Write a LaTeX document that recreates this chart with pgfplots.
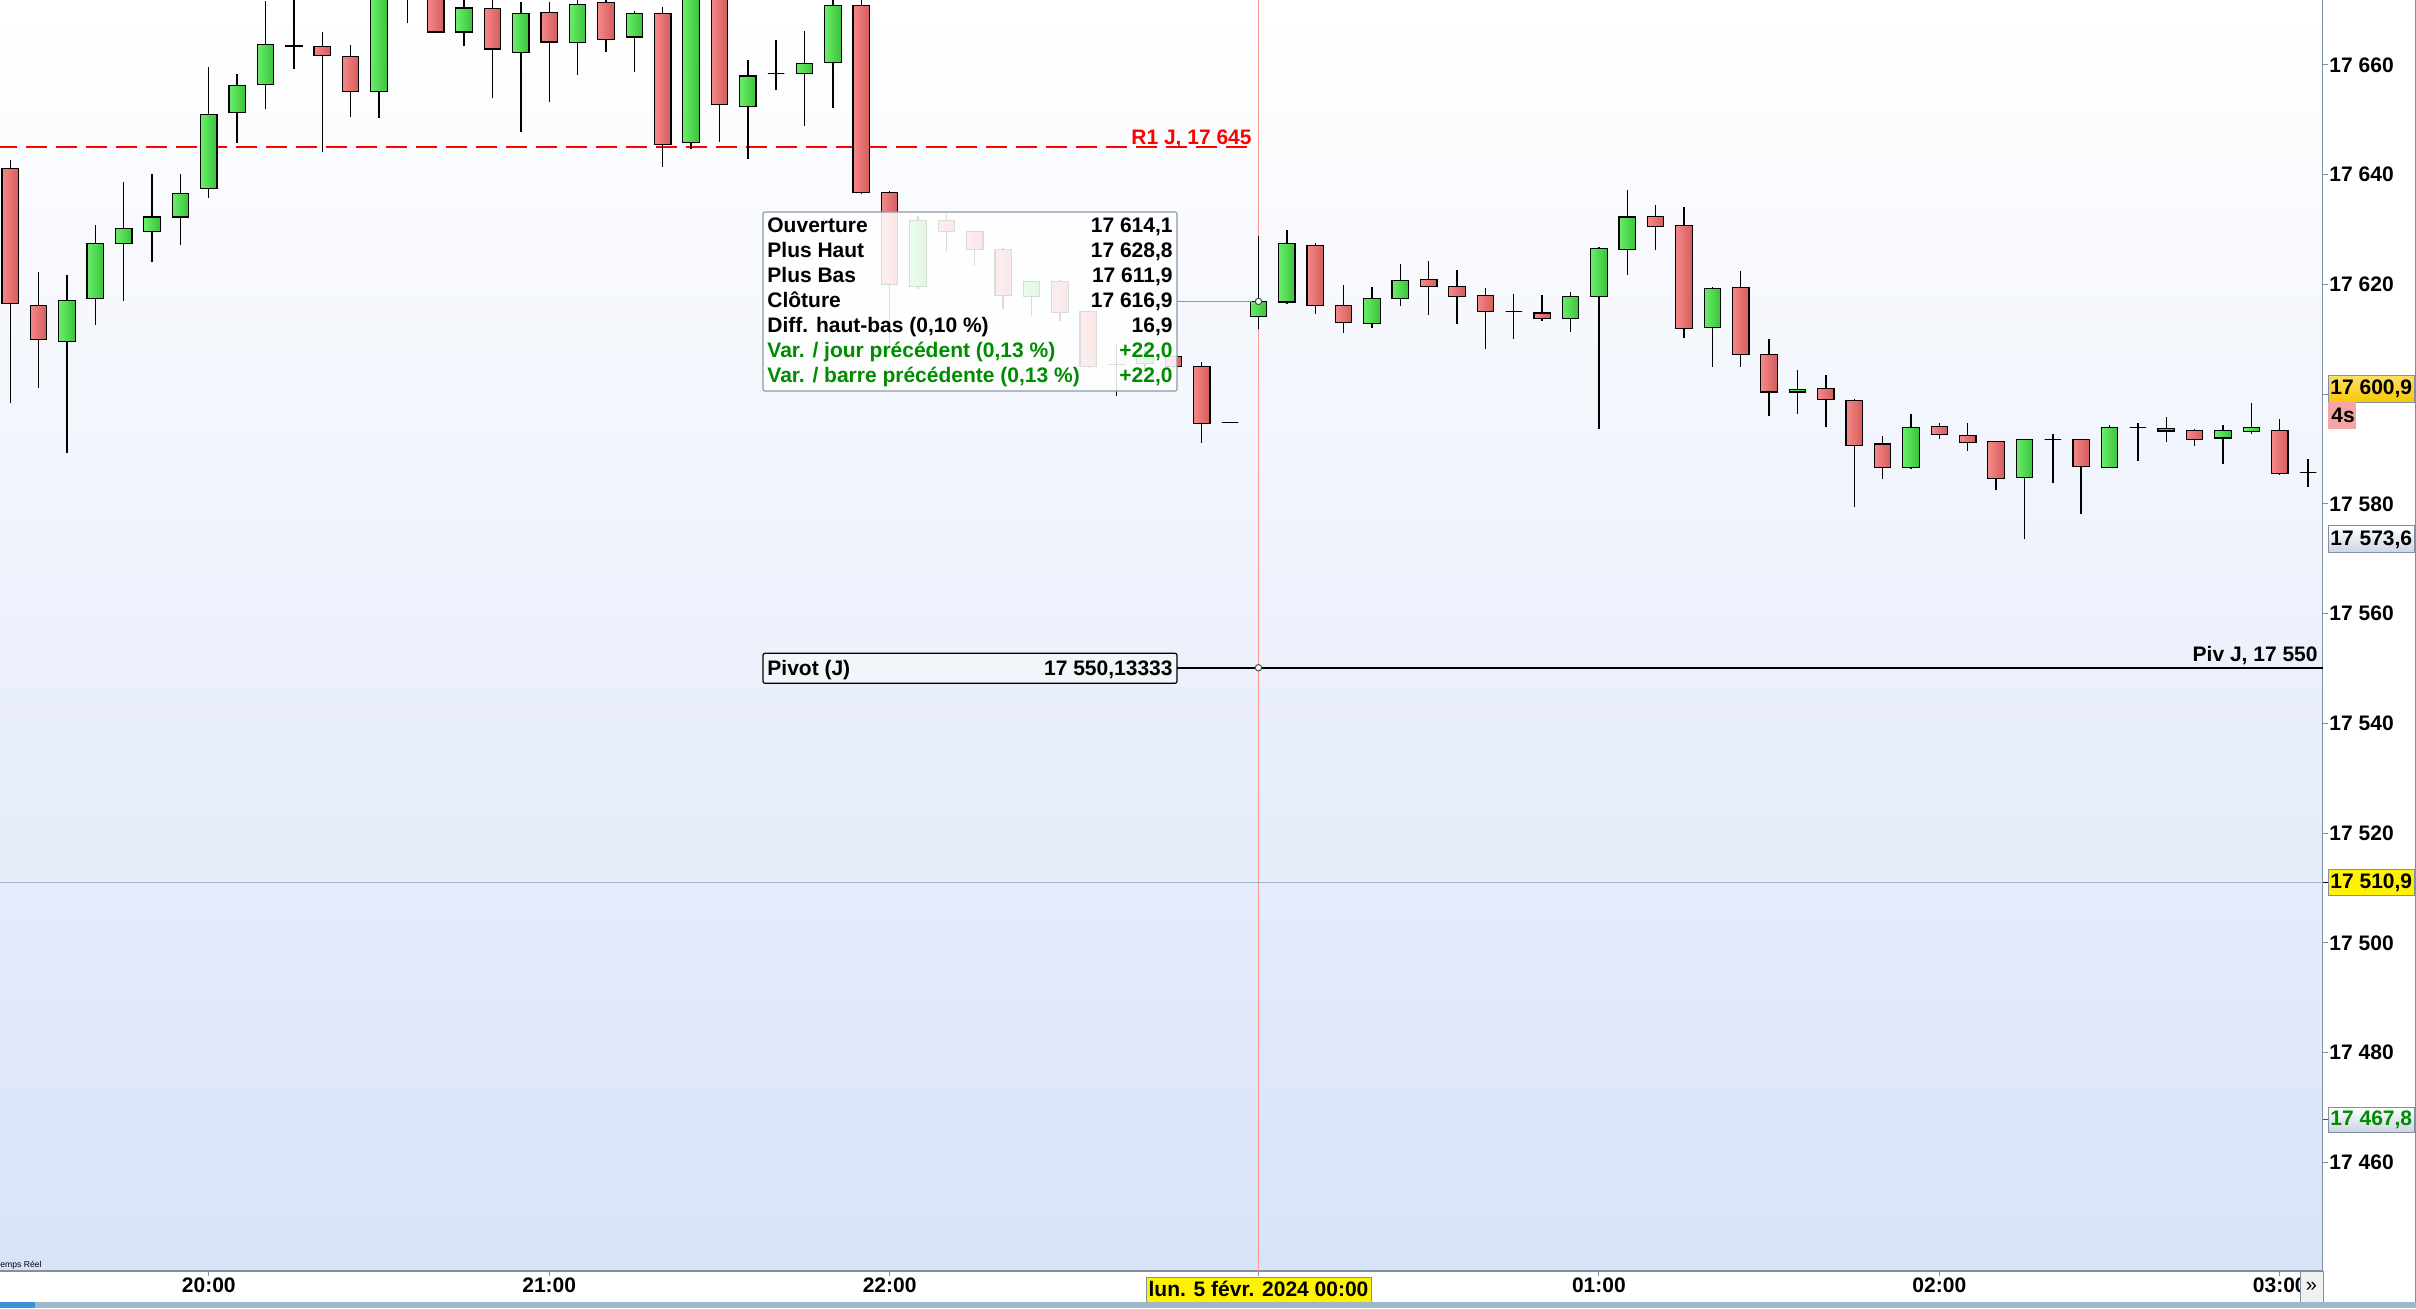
\documentclass[border=0pt]{standalone}
\usepackage{fontspec}
\setmainfont{Liberation Sans}
\usepackage{pgfplots}
\usepackage{pgfplotstable}
\pgfplotsset{compat=1.18}

\newcommand\lbl{\fontsize{10.5}{12.6}\selectfont\bfseries}

\definecolor{bgbot}{RGB}{217,227,248}
\definecolor{gl}{RGB}{106,238,106}
\definecolor{gr}{RGB}{58,194,58}
\definecolor{rl}{RGB}{245,136,136}
\definecolor{rr}{RGB}{212,92,92}
\definecolor{axgray}{RGB}{128,144,160}
\definecolor{barblue}{RGB}{158,184,201}
\definecolor{deepblue}{RGB}{58,143,216}
\definecolor{gold}{RGB}{250,200,0}
\definecolor{lblue}{RGB}{222,230,242}
\definecolor{pinkbox}{RGB}{244,166,166}
\definecolor{dgreen}{RGB}{0,140,0}
\definecolor{crossred}{RGB}{255,150,150}
\definecolor{crossgray}{RGB}{165,178,195}
\definecolor{tipborder}{RGB}{140,154,166}

% 5-minute candles, x = bar index (0 = 20:00, 37 = 00:00)
\pgfplotstableread{
x o h l c
-5 17609.6 17621.7 17589.2 17617.1
-4 17617.5 17630.8 17612.6 17627.5
-3 17627.5 17638.6 17617.0 17630.2
-2 17629.7 17640.1 17624.0 17632.3
-1 17632.3 17640.1 17627.1 17636.6
0 17637.5 17659.6 17635.8 17651.0
1 17651.3 17658.4 17645.8 17656.3
2 17656.4 17671.6 17651.9 17663.8
6 17655.1 17679.0 17650.4 17676.0
9 17666.0 17673.5 17663.4 17670.4
11 17662.3 17671.4 17647.8 17669.4
13 17664.1 17673.0 17658.2 17671.1
15 17665.1 17669.8 17658.8 17669.4
17 17645.9 17678.0 17644.6 17675.0
19 17652.4 17660.9 17642.8 17658.0
20 17658.5 17664.6 17655.5 17658.5
21 17658.5 17666.2 17648.9 17660.3
22 17660.5 17672.5 17652.1 17670.9
25 17619.6 17632.5 17619.2 17631.7
29 17617.8 17620.7 17614.2 17620.5
32 17605.4 17609.0 17599.6 17605.4
33 17605.6 17608.0 17604.5 17607.0
36 17594.9 17594.9 17594.9 17594.9
37 17614.1 17628.8 17611.9 17616.9
38 17616.8 17629.9 17616.4 17627.4
41 17612.9 17619.6 17612.1 17617.5
42 17617.5 17623.7 17616.1 17620.7
46 17615.0 17618.3 17610.1 17615.0
48 17613.8 17618.6 17611.3 17617.8
49 17617.8 17626.9 17593.7 17626.6
50 17626.4 17637.2 17621.7 17632.3
53 17612.1 17619.5 17605.0 17619.3
56 17600.4 17604.4 17596.3 17600.9
60 17586.7 17596.3 17586.4 17593.9
64 17584.8 17591.8 17573.6 17591.8
65 17591.8 17592.8 17583.8 17591.8
67 17586.6 17594.3 17586.6 17593.9
68 17593.9 17594.7 17587.9 17593.9
71 17592.0 17594.4 17587.2 17593.4
72 17593.2 17598.4 17592.7 17593.9
74 17585.7 17588.1 17583.0 17585.7
}\upcandles

\pgfplotstableread{
x o h l c
-7 17641.2 17642.6 17598.3 17616.5
-6 17616.2 17622.2 17601.2 17610.0
3 17663.6 17674.0 17659.2 17663.3
4 17663.3 17666.0 17644.2 17661.8
5 17661.6 17663.6 17650.6 17655.1
7 17680.0 17684.0 17667.6 17677.0
8 17678.0 17680.0 17666.0 17666.0
10 17670.3 17673.5 17653.9 17662.9
12 17669.6 17671.4 17653.3 17664.2
14 17671.4 17672.5 17662.4 17664.7
16 17669.4 17670.5 17641.4 17645.5
18 17675.0 17677.0 17646.0 17652.8
23 17670.9 17672.5 17636.4 17636.8
24 17636.7 17637.0 17609.0 17620.0
26 17631.7 17632.8 17626.0 17629.7
27 17629.7 17629.9 17623.3 17626.3
28 17626.3 17626.7 17615.5 17618.0
30 17620.5 17620.8 17613.3 17614.9
31 17615.1 17615.3 17604.8 17605.0
34 17606.9 17607.2 17604.7 17605.0
35 17605.1 17605.8 17591.1 17594.7
39 17627.1 17627.6 17614.7 17616.2
40 17616.2 17619.9 17611.2 17613.1
43 17620.9 17624.3 17614.4 17619.6
44 17619.6 17622.6 17612.8 17617.8
45 17618.0 17619.4 17608.2 17615.1
47 17614.8 17618.1 17613.4 17613.8
51 17632.4 17634.5 17626.3 17630.6
52 17630.8 17634.1 17610.3 17612.0
54 17619.4 17622.4 17605.0 17607.3
55 17607.3 17610.1 17596.1 17600.4
57 17601.1 17603.5 17594.0 17599.1
58 17598.9 17599.1 17579.4 17590.7
59 17590.9 17592.4 17584.6 17586.7
61 17594.1 17594.7 17591.8 17592.7
62 17592.5 17594.7 17589.7 17591.2
63 17591.4 17591.4 17582.5 17584.7
66 17591.8 17591.8 17578.2 17586.8
69 17593.8 17595.8 17591.2 17593.3
70 17593.4 17593.7 17590.6 17591.8
73 17593.4 17595.5 17585.3 17585.6
}\downcandles

\newcommand\drawcandles[3]{%
  \pgfplotstablegetrowsof{#1}%
  \pgfmathtruncatemacro{\nrows}{\pgfplotsretval-1}%
  \pgfplotsforeachungrouped \ci in {0,...,\nrows}{%
    \pgfplotstablegetelem{\ci}{x}\of#1\let\cx\pgfplotsretval
    \pgfplotstablegetelem{\ci}{o}\of#1\let\co\pgfplotsretval
    \pgfplotstablegetelem{\ci}{h}\of#1\let\ch\pgfplotsretval
    \pgfplotstablegetelem{\ci}{l}\of#1\let\cl\pgfplotsretval
    \pgfplotstablegetelem{\ci}{c}\of#1\let\cc\pgfplotsretval
    \pgfmathsetmacro\xa{\cx-0.29}%
    \pgfmathsetmacro\xb{\cx+0.29}%
    \edef\temp{%
      \noexpand\addplot[black, line width=0.7pt] coordinates {(\cx,\cl) (\cx,\ch)};
      \noexpand\addplot[draw=black, line width=0.6pt, left color=#2, right color=#3]
        coordinates {(\xa,\co) (\xb,\co) (\xb,\cc) (\xa,\cc)} -- cycle;
    }%
    \temp
  }%
}

\begin{document}
\begin{tikzpicture}
\useasboundingbox (0,0) rectangle (1208pt,654pt);
\fill[white] (0,0) rectangle (1208pt,654pt);

\begin{axis}[
  at={(0pt,18.5pt)}, anchor=south west,
  scale only axis, width=1161.5pt, height=635.5pt,
  xmin=-7.36, xmax=74.52, ymin=17440.17, ymax=17671.85,
  axis x line*=bottom, axis y line*=right,
  axis line style={axgray, line width=0.6pt, -},
  tick style={axgray, line width=0.5pt},
  tick align=outside, major tick length=2.5pt,
  xtick={0,12,24,37,49,61,73},
  xticklabels={20:00,21:00,22:00,,01:00,02:00,03:00},
  ytick={17460,17480,17500,17520,17540,17560,17580,17600,17620,17640,17660},
  yticklabels={17 460,17 480,17 500,17 520,17 540,17 560,17 580,,17 620,17 640,17 660},
  ticklabel style={font=\lbl},
  yticklabel style={anchor=west, inner sep=0.6pt},
  xticklabel style={yshift=2.5pt},
  axis background/.style={top color=white, bottom color=bgbot},
  clip=true,
]
% crosshair
\addplot[crossred, line width=0.5pt] coordinates {(37,17440.17) (37,17671.85)};
\addplot[crossgray, line width=0.5pt] coordinates {(-7.36,17510.9) (74.52,17510.9)};
% R1 line
\addplot[red, line width=0.9pt, dash pattern=on 10.5pt off 4.5pt, dash phase=1.85pt]
  coordinates {(-7.36,17645) (36.77,17645)};
% pivot line
\addplot[black, line width=0.8pt] coordinates {(34.13,17550.13) (74.52,17550.13)};
% candles
\drawcandles{\upcandles}{gl}{gr}
\drawcandles{\downcandles}{rl}{rr}
% markers
\addplot[only marks, mark=*, mark size=1.6pt, mark options={fill=white, draw=black!70, line width=0.5pt}]
  coordinates {(37,17616.9) (37,17550.13)};
\end{axis}

\begin{scope}[shift={(0pt,654pt)}, x=0.5pt, y=-0.5pt]
  \begin{scope}[every node/.style={inner sep=0, font=\lbl}]
    % R1 label
    \node[anchor=base east, text=red] at (1252,145) {R1 J, 17 645};
    % Pivot label
    \node[anchor=base east] at (2318,662) {Piv J, 17 550};
    % tooltip
    \draw[tipborder, line width=0.5pt] (1177,301.4) -- (1252,301.4);
    \filldraw[fill=white, fill opacity=0.86, draw=tipborder, line width=0.6pt, rounded corners=1pt]
       (763,212) rectangle (1177,391);
    \node[anchor=base west] at (767,232.9) {Ouverture};
    \node[anchor=base east] at (1173,232.9) {17 614,1};
    \node[anchor=base west] at (767,257.9) {Plus Haut};
    \node[anchor=base east] at (1173,257.9) {17 628,8};
    \node[anchor=base west] at (767,282.9) {Plus Bas};
    \node[anchor=base east] at (1173,282.9) {17 611,9};
    \node[anchor=base west] at (767,307.9) {Clôture};
    \node[anchor=base east] at (1173,307.9) {17 616,9};
    \node[anchor=base west] at (767,332.9) {Diff. haut-bas (0,10 \%)};
    \node[anchor=base east] at (1173,332.9) {16,9};
    \node[anchor=base west, text=dgreen] at (767,357.9) {Var. / jour précédent (0,13 \%)};
    \node[anchor=base east, text=dgreen] at (1173,357.9) {+22,0};
    \node[anchor=base west, text=dgreen] at (767,382.9) {Var. / barre précédente (0,13 \%)};
    \node[anchor=base east, text=dgreen] at (1173,382.9) {+22,0};
    % pivot box
    \filldraw[fill=white!60!lblue, draw=black, line width=0.6pt, rounded corners=1pt] (763,653.3) rectangle (1177,683.3);
    \node[anchor=base west] at (767,676) {Pivot (J)};
    \node[anchor=base east] at (1173,676) {17 550,13333};
    % right-axis labels
    \filldraw[top color=gold!60!white, bottom color=gold, draw=axgray, line width=0.5pt] (2328,376) rectangle (2414,402.5);
    \node[anchor=west] at (2330,389.2) {17 600,9};
    \fill[pinkbox] (2328,402.5) rectangle (2356,428.6);
    \node[anchor=west] at (2331,415.5) {4s};
    \filldraw[top color=white, bottom color=lblue!80!axgray, draw=axgray, line width=0.5pt] (2328,526) rectangle (2414,552.5);
    \node[anchor=west] at (2330,539.3) {17 573,6};
    \draw[black, line width=0.5pt] (2323,883) -- (2328,883);
    \filldraw[fill=yellow, draw=axgray, line width=0.5pt] (2328,870) rectangle (2414,896);
    \node[anchor=west] at (2330,883) {17 510,9};
    \draw[dgreen, line width=0.5pt] (2323,1119.4) -- (2328,1119.4);
    \filldraw[top color=white, bottom color=lblue!80!axgray, draw=axgray, line width=0.5pt] (2328,1107) rectangle (2414,1132);
    \node[anchor=west, text=dgreen] at (2330,1119.5) {17 467,8};
    % date label
    \filldraw[fill=yellow, draw=axgray, line width=0.4pt] (1146,1277) rectangle (1371,1302);
    \node at (1258.5,1288.5) {lun. 5 févr. 2024 00:00};
    % scroll box
    \filldraw[fill=black!6, draw=axgray, line width=0.4pt] (2300,1271) rectangle (2323,1302);
    \node[font=\normalfont] at (2311.5,1286.5) {»};
  \end{scope}
  % Temps reel
  \node[anchor=base west, inner sep=0, font=\fontsize{4.3}{5}\selectfont] at (0,1267) {\llap{T}emps Réel};
  % bottom bar
  \fill[barblue] (0,1302) rectangle (2416,1308);
  \fill[deepblue] (0,1302) rectangle (35,1308);
  \draw[axgray, line width=0.5pt] (2415,0) -- (2415,1302);
\end{scope}
\end{tikzpicture}
\end{document}
